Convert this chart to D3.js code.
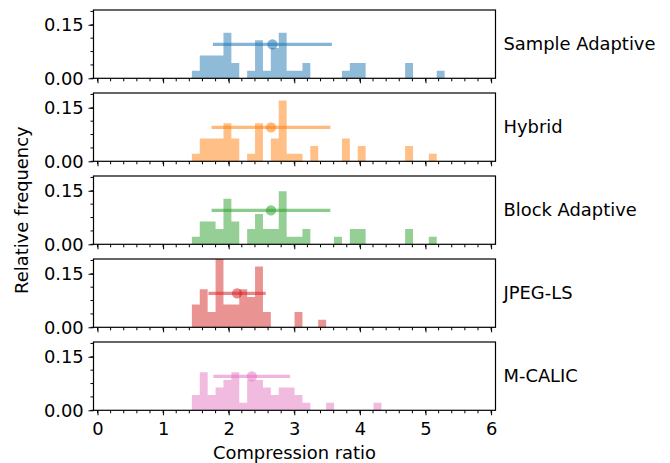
<!DOCTYPE html>
<html lang="en">
<head>
<meta charset="UTF-8">
<title>Compression ratio histograms</title>
<style>
  body { margin: 0; background: #fff; }
  text { font-family: "DejaVu Sans", sans-serif; fill: #000; }
</style>
</head>
<body>
<script src="https://d3js.org/d3.v7.min.js"></script>
<script>
    // methods, one panel each
    var methods = ["Sample Adaptive", "Hybrid", "Block Adaptive", "JPEG-LS", "M-CALIC"];
    var colors = ["#1f77b4", "#ff7f0e", "#2ca02c", "#d62728", "#e377c2"];

    // shared histogram bins (32 bins)
    var binStart = 1.4385, binWidth = 0.1204;
    var nImages = 47;

    // image counts per bin
    var countsSA     = [1,3,3,3,6,2,0,1,5,1,4,6,1,1,2,0,0,0,0,1,2,2,0,0,0,0,0,2,0,0,0,1];
    var countsHybrid = [1,3,3,3,5,3,0,1,5,0,3,8,1,1,0,2,0,0,0,3,0,2,0,0,0,0,0,2,0,0,1,0];
    var countsBlock  = [1,3,3,2,6,3,0,2,4,2,2,7,1,1,2,0,0,0,1,0,2,2,0,0,0,0,0,2,0,0,1,0];
    var countsJPEG   = [3,5,2,9,3,3,5,4,8,2,0,0,0,2,0,0,1,0,0,0,0,0,0,0,0,0,0,0,0,0,0,0];
    var countsCALIC  = [2,5,2,3,4,5,1,4,4,3,2,3,3,2,1,0,0,1,0,0,0,0,0,1,0,0,0,0,0,0,0,0];
    var allCounts = [countsSA, countsHybrid, countsBlock, countsJPEG, countsCALIC];

    // mean and std of compression ratio
    var means = [2.666, 2.645, 2.644, 2.128, 2.352];
    var stds  = [0.907, 0.905, 0.905, 0.437, 0.585];
    var errY = 0.095;

    var xTicks = [0, 1, 2, 3, 4, 5, 6];
    var yTicks = [0, 0.15];

    var width = 670, height = 463;
    var left = 93.5, right = 495.5;
    var panelTop = 10, panelStep = 83, panelH = 68.3;
    var fs = "17.9px";

    var svg = d3.select("body").append("svg")
        .attr("width", width).attr("height", height);

    var x = d3.scaleLinear().domain([-0.061, 6.067]).range([left, right]);
    var xMinor = d3.range(0, 6.001, 0.2);
    var yMinor = d3.range(0, 0.19, 0.0375);

    methods.forEach(function(name, i) {
        var top = panelTop + i * panelStep;
        var y = d3.scaleLinear().domain([0, 9 / nImages]).range([top + panelH, top]);
        var g = svg.append("g");
        var col = colors[i];

        // histogram as one stepped shape
        var pts = allCounts[i].map(function(c, k) {
            return { x: binStart + k * binWidth, v: c / nImages };
        });
        pts.push({ x: binStart + allCounts[i].length * binWidth, v: 0 });
        var area = d3.area()
            .x(function(d) { return x(d.x); })
            .y0(y(0))
            .y1(function(d) { return y(d.v); })
            .curve(d3.curveStepAfter);
        g.append("path").datum(pts)
            .attr("d", area)
            .attr("fill", col).attr("fill-opacity", 0.5);

        // mean +/- std
        g.append("line")
            .attr("x1", x(means[i] - stds[i])).attr("x2", x(means[i] + stds[i]))
            .attr("y1", y(errY)).attr("y2", y(errY))
            .attr("stroke", col).attr("stroke-width", 3.2).attr("stroke-opacity", 0.55);
        g.append("circle")
            .attr("cx", x(means[i])).attr("cy", y(errY)).attr("r", 5.2)
            .attr("fill", col).attr("fill-opacity", 0.55);

        // x axis
        var xa = g.append("g").attr("transform", "translate(0," + (top + panelH) + ")")
            .call(d3.axisBottom(x).tickValues(xTicks).tickSize(5)
                .tickFormat(i === methods.length - 1 ? d3.format("d") : ""));
        xa.select(".domain").remove();
        xa.selectAll("text").attr("font-size", fs).attr("dy", "0.95em");
        xa.selectAll(".minor").data(xMinor).enter().append("line")
            .attr("class", "minor")
            .attr("x1", function(d) { return x(d); }).attr("x2", function(d) { return x(d); })
            .attr("y1", 0).attr("y2", 3).attr("stroke", "#000");

        // y axis
        var ya = g.append("g").attr("transform", "translate(" + left + ",0)")
            .call(d3.axisLeft(y).tickValues(yTicks).tickSize(5).tickFormat(d3.format(".2f")));
        ya.select(".domain").remove();
        ya.selectAll("text").attr("font-size", fs).attr("dx", "-0.1em");
        ya.selectAll(".minor").data(yMinor).enter().append("line")
            .attr("class", "minor")
            .attr("x1", -3).attr("x2", 0)
            .attr("y1", function(d) { return y(d); }).attr("y2", function(d) { return y(d); })
            .attr("stroke", "#000");

        // frame
        g.append("rect")
            .attr("x", left).attr("y", top).attr("width", right - left).attr("height", panelH)
            .attr("fill", "none").attr("stroke", "#000").attr("stroke-width", 1.2);

        // method label
        g.append("text")
            .attr("x", right + 8).attr("y", top + panelH / 2)
            .attr("dy", "0.35em").attr("font-size", fs)
            .text(name);
    });

    svg.append("text")
        .attr("x", (left + right) / 2).attr("y", 459)
        .attr("text-anchor", "middle").attr("font-size", fs)
        .text("Compression ratio");

    svg.append("text")
        .attr("transform", "translate(28," + (panelTop + (4 * panelStep + panelH) / 2) + ") rotate(-90)")
        .attr("text-anchor", "middle").attr("font-size", fs)
        .text("Relative frequency");
</script>
</body>
</html>
